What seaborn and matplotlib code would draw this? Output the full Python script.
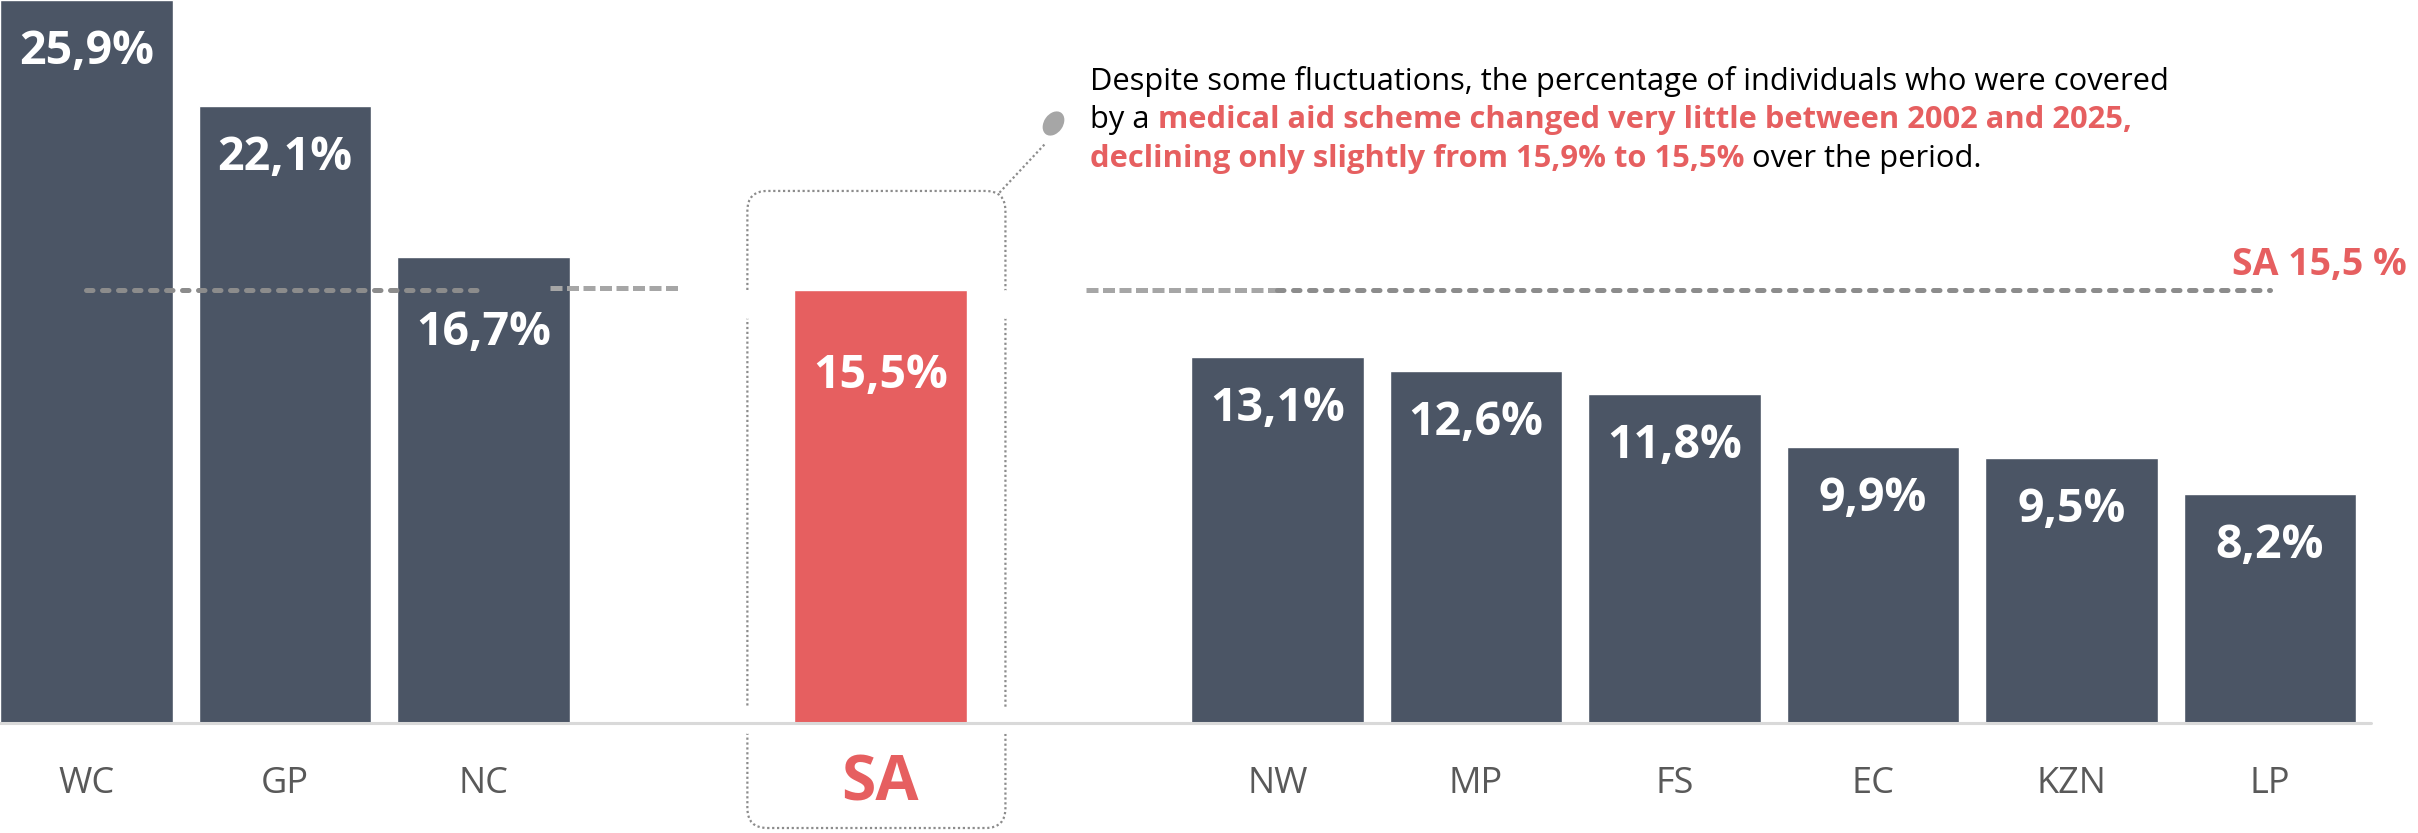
import matplotlib
matplotlib.use("Agg")
import matplotlib.pyplot as plt
import seaborn as sns
import pandas as pd
from matplotlib.patches import FancyBboxPatch
from matplotlib.markers import MarkerStyle
from matplotlib.transforms import Affine2D, blended_transform_factory

# data
provinces = ["WC", "GP", "NC", "SA", "NW", "MP", "FS", "EC", "KZN", "LP"]
coverage = [25.9, 22.1, 16.7, 15.5, 13.1, 12.6, 11.8, 9.9, 9.5, 8.2]
value_labels = ["25,9%", "22,1%", "16,7%", "15,5%", "13,1%", "12,6%", "11,8%", "9,9%", "9,5%", "8,2%"]
sa_value = 15.5
sa_text = "SA 15,5 %"
# x slots, the blank ones keep the gaps around SA
order = ["WC", "GP", "NC", "gap1", "SA", "gap2", "NW", "MP", "FS", "EC", "KZN", "LP"]

note_1 = "Despite some fluctuations, the percentage of individuals who were covered"
note_2a = "by a"
note_2b = "medical aid scheme changed very little between 2002 and 2025,"
note_3a = "declining only slightly from 15,9% to 15,5%"
note_3b = "over the period."

dark = "#4b5565"
red = "#e65f60"
grey_txt = "#595959"

sns.set_style("white")
plt.rcParams["font.family"] = ["Open Sans", "DejaVu Sans"]

df = pd.DataFrame({"province": provinces, "coverage": coverage})
palette = {p: (red if p == "SA" else dark) for p in provinces}

fig = plt.figure(figsize=(24.18, 8.33), dpi=100)
ax = fig.add_axes([0, 0.132, 1, 0.868])

sns.barplot(data=df, x="province", y="coverage", hue="province", order=order,
            palette=palette, width=0.87, saturation=1, legend=False, ax=ax, zorder=2)

ax.set_xlim(-0.435, 11.746)
ax.set_ylim(0, 25.9)
ax.set_axis_off()

pos = {c: i for i, c in enumerate(order)}

# bar value labels
extra = {"NC": 24, "SA": 34}
for p, v, lab in zip(provinces, coverage, value_labels):
    ax.annotate(lab, xy=(pos[p], v), xytext=(0, -64 - extra.get(p, 0)),
                textcoords="offset pixels", ha="center", va="baseline",
                color="white", fontsize=33.5, fontweight="bold", zorder=5)

# category labels under the axis
tr = blended_transform_factory(ax.transData, ax.transAxes)
for p in provinces:
    if p == "SA":
        ax.text(pos[p], -0.1065, p, transform=tr, ha="center", va="baseline",
                color=red, fontsize=45, fontweight="bold")
    else:
        ax.text(pos[p], -0.0968, p, transform=tr, ha="center", va="baseline",
                color=grey_txt, fontsize=26)

# baseline
ax.plot([-0.435, 11.51], [0, 0], color="#d9d9d9", lw=2.2, clip_on=False, zorder=4)

# SA reference line, broken around the SA box and the note
dark_dash = dict(color="#8c8c8c", lw=3.6, dash_capstyle="round", linestyle=(0, (1.3, 1.9)), zorder=3)
light_dash = dict(color="#a6a6a6", lw=3.6, dash_capstyle="butt", linestyle=(0, (2.4, 0.9)), zorder=3)
ax.plot([pos["WC"], pos["NC"]], [sa_value, sa_value], **dark_dash)
ax.plot([pos["NC"] + 0.336, pos["gap1"]], [sa_value + 0.1, sa_value + 0.1], **light_dash)
ax.plot([pos["gap2"] + 0.036, pos["NW"]], [sa_value, sa_value], **light_dash)
ax.plot([pos["NW"], pos["LP"]], [sa_value, sa_value], **dark_dash)
ax.text(11.69, 16.05, sa_text, ha="right", va="baseline", color=red,
        fontsize=27, fontweight="bold")

# dotted box round SA
x_px = 198.5
y_px = 723 / 25.9
box = FancyBboxPatch((pos["SA"] - 0.67, -3.76), 1.3, 22.82,
                     boxstyle="round,pad=0,rounding_size=0.1",
                     mutation_aspect=x_px / y_px, fill=False, ec="#8c8c8c",
                     lw=1.6, linestyle=(0, (1, 1.2)), clip_on=False, zorder=1)
ax.add_patch(box)
for bx in [pos["SA"] - 0.67, pos["SA"] + 0.63]:
    ax.plot([bx, bx], [14.6, 15.4], color="white", lw=5, zorder=1.5)
    ax.plot([bx, bx], [-0.25, 0.45], color="white", lw=5, clip_on=False, zorder=1.5)

# callout to the note
ax.plot([pos["SA"] + 0.6, pos["SA"] + 0.83], [19.0, 20.75], color="#8c8c8c",
        lw=1.6, linestyle=(0, (1, 1.2)), zorder=1)
ell = MarkerStyle("o", transform=Affine2D().scale(0.72, 1).rotate_deg(-35))
ax.plot(pos["SA"] + 0.87, 21.49, marker=ell, ms=19, color="#a6a6a6",
        mec="none", clip_on=False, zorder=3)

# note text with mixed colours
x0 = 1090 / 2418
ys = [(723 - 90) / 723, (723 - 128) / 723, (723 - 167) / 723]
fs = 22.2
space = 8
ax.text(x0, ys[0], note_1, transform=ax.transAxes, ha="left", va="baseline",
        fontsize=fs, color="black")
t2a = ax.text(x0, ys[1], note_2a, transform=ax.transAxes, ha="left", va="baseline",
              fontsize=fs, color="black")
t3a = ax.text(x0, ys[2], note_3a, transform=ax.transAxes, ha="left", va="baseline",
              fontsize=fs, color=red, fontweight="bold")
fig.canvas.draw()
r = fig.canvas.get_renderer()
inv = ax.transAxes.inverted()
bb = t2a.get_window_extent(r)
xb = inv.transform((bb.x1 + space, 0))[0]
ax.text(xb, ys[1], note_2b, transform=ax.transAxes, ha="left", va="baseline",
        fontsize=fs, color=red, fontweight="bold")
bb = t3a.get_window_extent(r)
xb = inv.transform((bb.x1 + space, 0))[0]
ax.text(xb, ys[2], note_3b, transform=ax.transAxes, ha="left", va="baseline",
        fontsize=fs, color="black")

fig.savefig("out.png", dpi=100, facecolor="white")
